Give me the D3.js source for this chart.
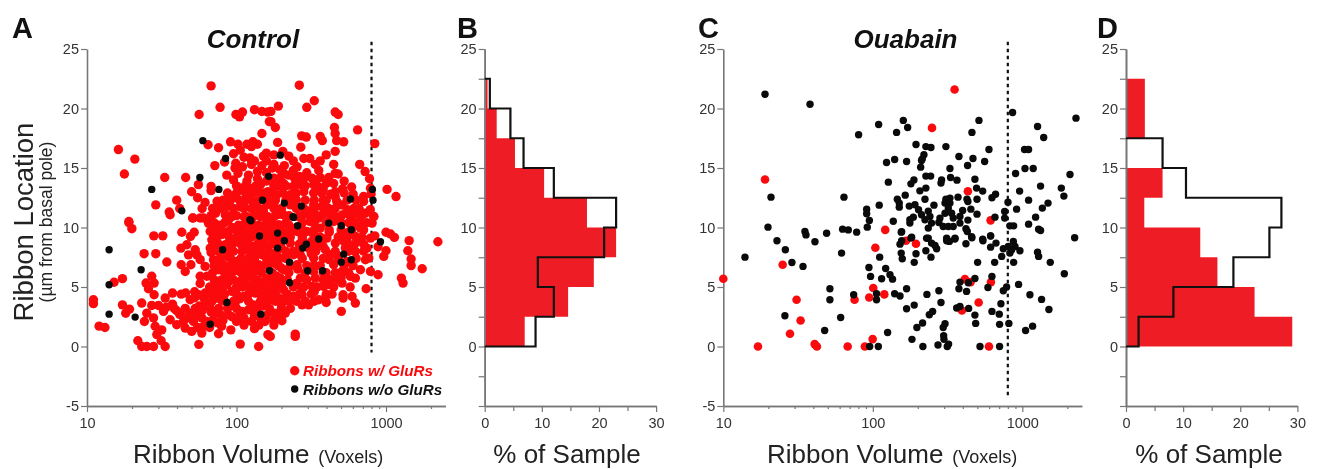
<!DOCTYPE html>
<html>
<head>
<meta charset="utf-8">
<script src="https://cdnjs.cloudflare.com/ajax/libs/d3/7.8.5/d3.min.js"></script>
<style>
body { margin: 0; background: #fff; }
svg { display: block; filter: blur(0.35px); }
text { font-family: "Liberation Sans", Arial, sans-serif; fill: #222; }
</style>
</head>
<body>
<div id="graph"></div>
<script>
// points are [log10 of volume in voxels, location in um]
const controlRed = [
[1.83,21.9],[1.89,20.1],[1.75,19.5],[1.996,19.5],[2.04,19.7],[2.02,19.3],[2.12,19.9],[2.17,19.75],[2.21,19.7],[2.22,18.9],[2.17,17.9],
[1.21,16.55],[1.32,15.75],[1.25,14.5],[1.52,14.2],[1.66,14.2],[1.81,16.95],[1.88,16.7],[1.96,17.2],[2.01,17.0],[2.07,17.0],[2.11,17.2],[2.14,17.0],[2.10,16.8],
[2.025,16.5],[1.98,16.2],[2.20,16.25],[2.20,15.6],[2.09,15.85],[2.10,15.3],[1.995,15.4],[1.99,15.0],[1.92,15.5],[1.855,15.2],[1.935,14.4],[2.01,14.55],[1.98,14.0],
[2.08,14.4],[2.14,14.7],[1.745,13.6],[1.83,13.45],[1.83,13.1],[1.70,13.0],[1.74,12.5],[1.79,12.1],[1.87,12.2],[1.77,11.6],[1.60,12.3],[1.62,11.6],[1.46,11.9],[1.55,11.3],[1.28,10.5],
[1.97,12.6],[2.025,13.3],[2.09,13.3],[2.16,13.6],[2.20,13.9],[2.07,12.5],[2.14,13.0],[2.21,13.0],[1.935,11.75],[2.025,11.75],[1.86,11.2],[1.925,11.05],[2.10,11.6],[2.20,11.9],[2.05,10.9],[1.71,10.8],[1.78,10.8],[2.16,10.9],[2.21,10.9],
[2.42,21.96],[2.52,20.65],[2.47,20.1],[2.28,20.2],[2.23,19.75],[2.66,19.7],[2.68,19.5],[2.81,18.2],[2.655,18.4],[2.26,18.4],[2.23,18.9],[2.66,17.9],[2.436,17.7],[2.467,17.6],[2.56,17.65],[2.574,17.3],[2.67,17.3],[2.717,17.2],[2.275,17.15],[2.925,17.05],[2.43,16.75],
[2.66,16.4],[2.60,16.1],[2.56,15.6],[2.527,15.3],[2.49,15.8],[2.45,15.8],[2.405,15.1],[2.35,16.0],[2.65,15.3],[2.66,14.55],[2.68,14.5],[2.617,14.2],[2.60,13.7],[2.505,14.15],[2.516,13.6],[2.824,15.3],[2.86,14.7],[2.89,14.1],[2.896,13.3],[3.007,13.2],[3.067,12.6],[2.71,13.25],[2.66,13.0],[2.63,12.8],
[2.427,13.6],[2.38,13.45],[2.35,14.4],[2.315,13.7],[2.25,16.1],[2.25,15.3],[2.29,14.85],[2.25,14.15],[2.29,14.15],[2.516,12.9],[2.45,13.0],[2.36,12.75],[2.27,12.75],[2.516,11.9],[2.45,11.6],[2.36,11.9],[2.57,11.75],[2.616,11.6],[2.706,11.9],[2.67,12.2],[2.784,11.6],[2.784,11.2],[2.74,11.5],[2.58,11.1],[2.706,11.05],[2.49,11.05],[2.416,10.9],[2.315,11.05],[2.25,11.9],[2.862,11.2],[2.918,10.9],[2.895,11.5],[2.83,10.9],
[1.28,10.4],[1.30,9.9],[1.447,9.3],[1.507,9.3],[1.634,9.6],[1.717,9.6],[1.692,9.25],[1.556,11.07],[1.706,10.8],[1.757,10.8],[1.813,10.35],[1.824,9.67],[1.835,8.97],[1.824,8.27],[1.382,7.8],[1.46,7.8],[1.534,7.1],[1.628,8.27],[1.668,8.55],[1.724,8.13],[1.679,7.7],[1.735,7.7],[1.757,7.3],[1.79,6.73],[1.63,6.87],[1.695,6.87],[1.657,6.3],[1.757,5.9],[1.757,5.3],[1.802,5.9],
[1.237,5.7],[1.181,5.4],[1.433,5.9],[1.395,5.33],[1.449,5.33],[1.411,4.85],[1.449,4.35],[1.043,3.93],[1.043,3.6],[1.237,3.5],[1.284,3.14],[1.259,2.8],[1.366,3.65],[1.433,3.45],[1.478,3.45],[1.512,2.95],[1.40,2.8],[1.384,2.1],[1.445,2.4],[1.456,1.7],[1.50,1.4],[1.467,1.0],[1.34,0.48],[1.366,0],[1.40,0],[1.445,0],[1.496,0.48],[1.523,0],[1.081,1.71],[1.12,1.6],
[1.523,4.07],[1.572,4.49],[1.63,4.4],[1.572,3.56],[1.585,3.17],[1.69,3.93],[1.746,4.35],[1.79,4.49],[1.835,4.77],[1.88,4.63],[1.657,3.2],[1.724,3.2],[1.79,3.65],[1.835,3.79],[1.88,3.2],[1.679,2.67],[1.556,2.25],[1.60,1.83],[1.657,1.55],[1.70,1.27],[1.645,2.1],[1.768,1.13],[1.712,2.1],[1.768,2.4],[1.757,2.95],[1.748,0.18],[1.88,1.07],[1.909,2.19],[1.962,1.4],[2.0,2.1],[1.947,2.67],[2.025,0.2],[2.148,0],[2.10,2.1],[2.21,1.0],[2.036,2.95],[2.08,3.09],[2.19,2.1],
[1.88,10.2],[1.947,10.65],[2.014,10.2],[2.148,10.2],[1.90,9.4],[1.98,8.7],[2.047,9.1],[2.103,8.4],[2.181,8.55],[1.936,7.57],[2.003,7.15],[2.08,7.43],[2.148,6.87],[1.88,6.45],[1.947,5.9],[2.025,5.47],[2.103,5.9],[2.19,5.47],[1.869,5.05],[1.969,4.63],[2.047,4.2],[2.125,4.49],[2.2,3.93],[1.846,7.29],[1.869,4.07],[1.99,3.65],[2.114,3.5],[2.215,6.87],[2.036,7.99],[2.215,7.99],[2.058,6.45],[1.925,8.55],[2.08,9.67],[2.19,9.67],[1.947,9.67],[1.88,7.99],[1.913,6.87],[1.98,6.31],[2.125,6.31],[1.936,5.19],[2.014,6.45],[2.159,5.05],[2.08,5.05],[2.17,7.71],[2.103,10.8],[1.969,10.9],[2.215,10.2],[2.215,4.9],
[3.347,8.8],[3.155,8.9],[3.146,8.05],[3.168,7.35],[3.168,6.8],[3.242,6.53],[3.103,5.75],[3.114,5.33],[3.0,9.6],[3.056,9.17],[3.03,9.45],[3.0,8.05],[2.985,7.57],[2.947,8.38],[2.925,9.3],[2.947,6.03],[2.867,4.85],[2.701,2.95],[2.393,1.04],[2.393,0.85],[2.226,0.85],[2.795,3.65],[2.773,4.2],[2.713,4.35],[2.713,4.07],[2.639,4.4],[2.594,4.07],[2.55,3.93],[2.483,3.5],[2.438,3.5],[2.438,4.35],[2.382,4.2],[2.326,4.07],[2.326,2.8],[2.304,2.16],[2.248,2.16],[2.253,2.8],[2.26,4.49],[2.226,3.93],
[2.896,6.31],[2.885,7.43],[2.873,8.27],[2.896,9.11],[2.907,10.37],[2.918,10.93],[2.851,10.37],[2.795,10.37],[2.829,8.97],[2.795,9.25],[2.739,9.11],[2.795,7.99],[2.862,7.29],[2.829,6.45],[2.795,5.75],[2.706,5.33],[2.706,6.31],[2.628,5.61],[2.583,5.05],[2.505,5.05],[2.527,5.75],[2.427,5.75],[2.405,5.19],[2.226,4.9],[2.27,5.19],[2.315,4.77],[2.516,6.31],[2.427,7.71],[2.483,8.27],[2.516,7.43],[2.594,8.13],[2.628,7.71],[2.605,9.11],[2.661,8.69],[2.728,8.27],[2.516,9.39],[2.56,9.95],[2.47,9.67],[2.405,9.67],[2.349,10.23],[2.282,10.23],[2.248,9.11],[2.36,8.69],[2.382,7.71],[2.293,7.43],[2.237,7.57],[2.315,6.45],[2.405,6.87],[2.293,5.75],[2.65,10.5],[2.49,10.5],[2.427,10.93],[2.773,10.93],[2.661,10.93],[2.829,9.95],[2.739,7.15],[2.65,6.87],[2.762,5.89]
];
// the crowded middle of the Control cloud, estimated where dots merge
const controlRedCore = [
[2.0,13.5],[2.06,13.5],[2.13,13.5],[2.28,13.5],[2.33,13.5],[2.38,13.4],[2.46,13.5],[2.55,13.4],
[1.94,12.9],[2.0,12.9],[2.06,12.9],[2.11,12.9],[2.18,12.9],[2.24,12.9],[2.31,12.9],[2.4,12.9],[2.57,12.9],[2.72,12.9],
[1.91,12.3],[1.96,12.3],[2.02,12.3],[2.1,12.3],[2.15,12.3],[2.21,12.3],[2.26,12.3],[2.33,12.3],[2.4,12.3],[2.46,12.3],[2.52,12.3],[2.58,12.3],[2.74,12.3],[2.8,12.3],
[1.84,11.6],[1.89,11.6],[1.98,11.6],[2.05,11.6],[2.15,11.6],[2.25,11.6],[2.3,11.6],[2.4,11.6],[2.52,11.6],[2.66,11.6],[2.82,11.6],
[1.83,11],[1.96,11],[2.0,11],[2.12,11],[2.26,11],[2.35,11],[2.44,11],[2.54,11],[2.63,11],[2.76,11],
[1.85,10.4],[1.92,10.4],[2.06,10.4],[2.1,10.4],[2.2,10.4],[2.24,10.4],[2.33,10.4],[2.44,10.4],[2.52,10.4],[2.6,10.4],[2.7,10.4],[2.75,10.4],[2.87,10.4],
[1.86,9.8],[1.9,9.8],[2.0,9.8],[2.04,9.8],[2.13,9.8],[2.24,9.8],[2.3,9.8],[2.36,9.8],[2.44,9.8],[2.52,9.8],[2.62,9.8],[2.7,9.8],[2.77,9.8],[2.85,9.8],
[1.87,9.2],[1.95,9.2],[2.0,9.2],[2.1,9.2],[2.15,9.2],[2.22,9.2],[2.3,9.2],[2.36,9.2],[2.44,9.2],[2.56,9.2],[2.68,9.2],[2.84,9.2],
[1.88,8.6],[1.94,8.6],[2.03,8.6],[2.08,8.6],[2.14,8.6],[2.23,8.6],[2.29,8.6],[2.42,8.6],[2.53,8.6],[2.57,8.6],[2.75,8.6],[2.85,8.6],
[1.93,8],[1.98,8],[2.09,8],[2.16,8],[2.27,8],[2.33,8],[2.38,8],[2.53,8],[2.66,8],[2.75,8],[2.85,8],
[1.89,7.4],[1.96,7.4],[2.03,7.4],[2.12,7.4],[2.22,7.4],[2.33,7.4],[2.44,7.4],[2.58,7.4],[2.68,7.4],[2.8,7.4],
[1.85,6.8],[1.96,6.8],[2.05,6.8],[2.1,6.8],[2.18,6.8],[2.28,6.8],[2.36,6.8],[2.47,6.8],[2.56,6.8],[2.72,6.8],[2.78,6.8],
[1.84,6.2],[1.92,6.2],[2.03,6.2],[2.09,6.2],[2.17,6.2],[2.24,6.2],[2.35,6.2],[2.46,6.2],[2.58,6.2],[2.66,6.2],[2.75,6.2],
[1.85,5.6],[1.9,5.6],[1.98,5.6],[2.06,5.6],[2.14,5.6],[2.24,5.6],[2.34,5.6],[2.47,5.6],[2.58,5.6],[2.68,5.6],
[1.82,5],[1.91,5],[2.0,5],[2.04,5],[2.12,5],[2.2,5],[2.3,5],[2.38,5],[2.45,5],[2.54,5],[2.65,5],[2.76,5],
[1.92,4.4],[2.0,4.4],[2.08,4.4],[2.16,4.4],[2.24,4.4],[2.34,4.4],[2.42,4.4],[2.5,4.4],[2.6,4.4],
[1.92,3.8],[1.98,3.8],[2.08,3.8],[2.16,3.8],[2.26,3.8],[2.35,3.8],[2.46,3.8],[2.52,3.8],
[1.94,3.2],[2.0,3.2],[2.14,3.2],[2.22,3.2],[2.3,3.2],[2.36,3.2],
[2.02,2.6],[2.12,2.6],[2.2,2.6],[2.28,2.6],
[2.05,1.8],[2.15,1.8],[2.25,1.8],
[1.75,3.4],[1.82,3.3],[1.85,2.7],[1.7,2.8],[1.62,2.7],[1.78,1.7],[1.84,2.2],[1.6,3.0],[1.72,4.1],[1.53,3.3],
[1.66,4.5],[1.72,4.6],[1.78,4.1],[1.84,4.2],[1.9,3.9],[1.77,3.0],[1.83,2.9],[1.9,2.6],[1.72,2.5],[1.8,2.1],[1.87,2.0],[1.67,2.4],[1.74,1.6],[1.82,1.6],[1.9,1.7],[1.97,2.5],[1.95,3.4],[2.05,2.4],[2.15,2.5],[2.12,1.5],
[1.83,7.9],[1.84,8.8],[1.85,9.4],[1.86,8.3],
[2.05,15.9],[2.12,15.6],[2.17,15.2],[2.04,15.1],[2.14,14.1],[2.07,13.9],[2.2,14.6],[2.18,16],[2.24,15],[2.32,15.2],[2.38,14.8],[2.42,14.3],[2.47,14.6],[2.55,14.8],[2.32,14.5],[2.39,14.1],[2.45,14.1],[2.56,14.2],[2.25,13.5],[2.31,16.4],[2.38,15.6],[2.53,13.9],[2.65,13.7],[2.72,13.9],[2.58,13.2],[2.77,13.4],[2.78,12.8],[2.85,12.6],[2.9,12.8],[2.66,12.6],[2.6,12.3],[2.85,12.2],
[2.05,12],[2.12,12.1],[2.18,11.4],[2.3,11.3],[2.36,12.2],[2.48,11.4],[2.55,10.8],[2.3,10.1],[2.4,10.0],[2.18,10],[2.1,9.9],[2.34,9.5],[2.44,9.0],[2.5,8.8],[2.58,8.4],[2.62,9.6],[2.7,9.4],[2.75,9.6],[2.72,8.8],[2.79,8.6],[2.68,7.6],[2.62,7.3],[2.5,7.8],[2.42,8.2],[2.3,8.3],[2.2,7.4],[2.13,8],[2.05,8.2],[2.1,7.1],[2.25,7.0],[2.3,6.6],[2.41,6.5],[2.52,6.8],[2.6,6.2],[2.7,5.8],[2.62,5.2],[2.4,5.3],[2.3,5.3],[2.2,5.7],[2.12,5.5],[2.1,4.9],[2.2,4.4],[2.28,4.1],[2.4,3.8],[2.44,4.9],[2.52,4.6],[2.6,3.7],[2.3,3.5],[2.1,3.1],[2.18,3.4],[2.02,4.0],[1.9,4.4],[1.95,5.5],[1.93,6.4],[1.87,7.0],[2.0,6.9],[2.05,5.9],[2.16,6.6],[2.27,5.9],[2.18,9.1],[2.26,8.9],[2.02,9.5],[1.97,10.0],[2.07,10.9],[2.28,11.1],[1.88,8.3],[1.95,8.2]
];
const controlBlack = [
[1.775,17.3],[1.927,15.8],[1.755,14.2],[1.433,13.2],[1.882,13.2],[1.634,11.4],[2.174,12.3],[2.215,14.3],[2.09,10.65],
[2.293,16.08],[2.909,13.2],[2.913,12.3],[2.762,12.4],[2.434,11.8],[2.32,12.05],[2.378,10.9],
[1.148,8.13],[1.362,6.45],[1.148,5.19],[1.148,2.72],[1.322,2.47],[1.824,1.88],[1.936,3.7],[1.907,8.13],[2.096,10.57],[2.154,9.28],[2.163,2.72],[2.221,6.36],
[2.963,8.8],[2.617,10.37],[2.701,10.15],[2.768,9.81],[2.382,10.85],[2.409,10.15],[2.275,9.53],[2.32,8.89],[2.55,9.03],[2.467,8.6],[2.443,8.27],[2.275,8.27],[2.717,7.76],[2.701,7.09],[2.768,7.29],[2.355,7.09],[2.476,6.36],[2.576,6.36],[2.355,5.36]
];
const ouabainRed = [
[1.0,5.69],[1.232,0],[1.397,6.87],[1.49,3.93],[1.517,2.19],[1.446,1.07],[1.611,0.2],[1.626,0],[1.832,0],[1.878,3.93],
[1.279,14.03],[2.547,21.6],[2.396,18.37],[2.636,13.05],[2.788,10.6],[2.083,9.8],
[2.017,8.3],[2.222,8.89],[2.289,8.63],[2.616,5.66],[2.654,5.41],[2.79,5.41],[2.708,3.7],[2.596,3.03],[2.003,4.91],[1.976,4.12],[2.077,4.38],[1.999,0.62],[1.947,0],[2.777,0]
];
const ouabainBlack = [
[1.279,21.2],[1.58,20.36],[1.905,17.8],[1.319,12.55],[1.299,10.03],[1.546,9.66],[1.553,9.38],[1.691,9.52],[1.807,12.55],[1.798,9.86],[1.836,9.8],[1.892,9.61],[1.959,11.54],[1.959,11.15],[1.977,10.59],[1.963,10.03],
[1.145,7.51],[1.359,8.89],[1.415,8.13],[1.459,7.06],[1.533,6.73],[1.613,8.8],[1.791,7.85],[1.412,2.58],[1.785,2.44],[1.713,4.85],[1.713,3.93],[1.678,1.35],[1.872,4.35],
[2.935,19.67],[3.359,19.19],[2.039,18.66],[2.204,19],[2.233,18.4],[2.159,17.99],[2.71,19],[2.663,17.99],[3.102,18.49],[3.143,17.56],[2.289,16.98],[2.355,16.8],[2.389,16.72],[2.489,16.8],[2.777,16.56],[2.576,15.97],[2.67,15.8],[2.748,15.55],[2.634,15.21],[2.342,16.11],[2.331,15.77],[2.326,15.63],[2.32,15.07],[2.092,15.46],[2.146,15.72],[2.226,15.55],[2.516,14.96],
[3.015,16.56],[3.042,16.56],[3.018,14.96],[3.073,14.96],[2.955,14.54],[3.319,14.46],[2.355,14.32],[2.387,14.32],[2.52,14.2],[2.563,13.98],[2.683,14.06],[2.46,14.0],[2.456,13.73],[2.104,13.81],[2.275,14.0],[2.255,13.67],[2.355,13.31],[2.315,13.08],[2.217,12.72],[2.694,13.31],[2.735,13.06],[2.821,12.8],[2.797,12.5],[3.122,13.48],[2.982,13.06],[3.261,13.31],[3.278,12.64],[3.042,12.3],[2.904,12.13],[3.172,12.05],[3.134,11.63],[2.962,11.54],
[2.697,12.38],[2.63,12.38],[2.636,12.19],[2.57,12.55],[2.516,12.47],[2.489,12.38],[2.483,12.05],[2.516,12.05],[2.349,12.38],[2.409,11.88],[2.164,12.38],[2.177,12.05],[2.177,11.71],[2.043,11.88],[2.244,11.8],[2.282,11.91],[2.306,11.49],[2.371,11.38],[2.326,11.07],[2.382,10.93],[2.349,10.65],[2.505,11.63],[2.483,11.2],[2.527,11.2],[2.449,10.79],[2.442,10.42],[2.601,11.43],[2.656,11.54],[2.697,11.12],[2.583,10.93],[2.636,10.62],[2.583,10.37],[2.538,10.79],[2.371,9.95],[2.393,10.37],[2.471,10.09],[2.505,10.09],[2.538,10.09],
[2.137,10.53],[2.248,10.65],[2.271,10.87],[2.248,10.37],[2.193,9.64],[2.26,9.19],[2.36,9.1],[2.623,9.89],[2.632,9.67],[2.661,9.22],[2.55,9.1],[2.494,9.1],[2.817,10.87],[2.882,11.35],[2.882,10.79],[2.917,10.14],[2.942,10.14],[3.089,10.87],[3.042,10.28],[3.109,9.86],[3.122,9.75],[2.788,9.3],[2.735,9.02],
[3.35,9.14],[2.19,9.61],[2.193,8.89],[2.182,8.6],[2.255,9.11],[2.371,9.11],[2.393,8.69],[2.416,8.49],[2.427,8.21],[2.494,8.89],[2.512,8.83],[2.549,9.03],[2.623,8.63],[2.663,9.14],[2.737,8.89],[2.788,9.28],[2.824,8.69],[2.788,8.35],[2.873,8.21],[2.906,8.41],[2.94,8.83],[2.951,8.41],[2.929,8.13],[2.984,8.05],[2.862,7.57],[2.917,7.85],[3.102,7.93],[3.109,7.57],[2.942,7.07],[2.815,7.07],[2.701,7.07],[3.187,7.07],[3.281,6.11],
[2.19,7.85],[2.197,7.37],[2.289,7.79],[2.355,8.05],[2.389,7.51],[2.277,7.07],[2.046,7.51],[1.974,6.64],[2.086,6.56],[1.985,5.89],[2.059,5.69],[2.115,6.03],[2.132,5.66],[2.683,5.72],[2.797,5.89],[2.975,5.22],[2.583,5.41],[2.639,5.36],[2.576,4.85],[2.627,4.63],[2.77,4.96],[2.895,5.0],[2.873,4.68],[2.226,4.85],[2.146,4.43],[2.182,4.24],[2.025,4.43],[2.025,3.93],[2.442,4.68],[2.362,4.38],[3.051,4.35],[3.129,3.96],[3.178,3.11],
[2.456,3.7],[2.277,3.48],[2.226,3.17],[2.40,2.95],[2.378,2.67],[2.583,3.37],[2.561,3.23],[2.641,3.2],[2.857,3.59],[2.797,2.95],[2.846,2.72],[2.683,2.64],[2.688,1.94],[2.848,1.86],[2.91,1.94],[2.333,1.97],[2.295,1.6],[2.483,1.91],[2.471,1.6],[3.069,1.71],[3.022,1.35],[2.099,1.18],[2.474,0.9],[2.476,0.6],[2.262,0.6],[2.507,0.2],[2.498,0],[2.436,0.12],[2.335,0],[2.717,0],[2.848,0],[1.979,0],[2.037,0]
];

// histogram bins, from 0-2.5 up to 20-22.5
const binEdges = [0, 2.5, 5, 7.5, 10, 12.5, 15, 17.5, 20, 22.5];
const controlHistRed = [7.0, 14.6, 19.1, 23.0, 17.9, 10.4, 5.3, 2.1, 0.5];
const controlHistBlack = [8.9, 12.1, 9.3, 20.9, 23.0, 12.1, 6.8, 4.5, 0.9];
const ouabainHistRed = [29.1, 22.5, 16.0, 13.0, 3.2, 6.4, 0, 3.3, 3.3];
// no black bins above 17.5 in this panel
const ouabainHistBlack = [2.2, 8.3, 18.8, 25.1, 27.2, 10.5, 6.4];

const minorVolumes = [20, 30, 40, 50, 60, 70, 80, 90, 200, 300, 400, 500, 600, 700, 800, 900, 2000];
const majorVolumes = [10, 100, 1000];
const cutoffVolume = 800;
const locationTicks = [25, 20, 15, 10, 5, 0, -5];
const histMinorLoc = [22.5, 17.5, 12.5, 7.5, 2.5, -2.5];
const histLabelLoc = [25, 20, 15, 10, 5, 0];

const RED = "#fb0a0d", HISTRED = "#ee1c25", AXIS = "#777";

var svg = d3.select("#graph").append("svg").attr("width", 1320).attr("height", 469);

var y = d3.scaleLinear().domain([-5, 25]).range([406, 49]);

function styleAxis(g) {
    g.selectAll(".domain").attr("stroke", AXIS).attr("stroke-width", 1.6);
    g.selectAll(".tick line").attr("stroke", AXIS).attr("stroke-width", 1.2);
    g.selectAll("text").attr("font-size", 14.5).style("fill", "#333");
}

function scatterPanel(x0, red, black, dashEnd, rRed, rBlack) {
    var x = d3.scaleLog().domain([10, 2500]).range([x0, x0 + 358.5]);

    svg.append("g").attr("transform", "translate(0,406)")
        .call(d3.axisBottom(x).tickValues(minorVolumes).tickSize(3).tickSizeOuter(0).tickFormat(""))
        .call(styleAxis);
    svg.append("g").attr("transform", "translate(0,406)")
        .call(d3.axisBottom(x).tickValues(majorVolumes).tickSize(6).tickSizeOuter(0).tickFormat(d3.format("d")).tickPadding(6))
        .call(styleAxis);
    svg.append("g").attr("transform", `translate(${x0},0)`)
        .call(d3.axisLeft(y).tickValues(locationTicks).tickSize(6).tickSizeOuter(0).tickPadding(2).tickFormat(d => String(d)))
        .call(styleAxis);

    svg.append("line")
        .attr("x1", x(cutoffVolume)).attr("x2", x(cutoffVolume))
        .attr("y1", y(25.6)).attr("y2", y(dashEnd))
        .attr("stroke", "#111").attr("stroke-width", 2.2).attr("stroke-dasharray", "3.5 3.5");

    svg.append("g").selectAll("circle").data(red).join("circle")
        .attr("cx", d => x(Math.pow(10, d[0]))).attr("cy", d => y(d[1])).attr("r", rRed).attr("fill", RED);
    svg.append("g").selectAll("circle").data(black).join("circle")
        .attr("cx", d => x(Math.pow(10, d[0]))).attr("cy", d => y(d[1])).attr("r", rBlack).attr("fill", "#0a0a0a");
}

// steps up through the bins, back to the axis at the top
function stepPoints(vals) {
    var pts = [[0, 0]];
    vals.forEach((v, i) => {
        pts.push([v, binEdges[i]]);
        pts.push([v, binEdges[i + 1]]);
    });
    pts.push([0, binEdges[vals.length]]);
    return pts;
}

function histPanel(x0, redVals, blackVals) {
    var x = d3.scaleLinear().domain([0, 30]).range([x0, x0 + 171.4]);
    var outline = d3.line().x(d => x(d[0])).y(d => y(d[1]));

    svg.append("path").attr("d", outline(stepPoints(redVals)) + "Z").attr("fill", HISTRED);

    svg.append("g").attr("transform", "translate(0,406)")
        .call(d3.axisBottom(x).tickValues([5, 15, 25]).tickSize(5).tickSizeOuter(0).tickFormat(""))
        .call(styleAxis);
    svg.append("g").attr("transform", "translate(0,406)")
        .call(d3.axisBottom(x).tickValues([0, 10, 20, 30]).tickSize(6).tickSizeOuter(0).tickPadding(6))
        .call(styleAxis);
    svg.append("g").attr("transform", `translate(${x0},0)`)
        .call(d3.axisLeft(y).tickValues(histMinorLoc.concat([-5])).tickSize(6).tickSizeOuter(0).tickFormat(""))
        .call(styleAxis);
    svg.append("g").attr("transform", `translate(${x0},0)`)
        .call(d3.axisLeft(y).tickValues(histLabelLoc).tickSize(6).tickSizeOuter(0).tickPadding(2))
        .call(styleAxis);

    svg.append("path").attr("d", outline(stepPoints(blackVals)))
        .attr("fill", "none").attr("stroke", "#111").attr("stroke-width", 2.2);
}

scatterPanel(87, controlRed.concat(controlRedCore), controlBlack, -0.5, 4.7, 3.7);
histPanel(484.7, controlHistRed, controlHistBlack);
scatterPanel(723.3, ouabainRed, ouabainBlack, -4.2, 4.3, 3.7);
histPanel(1126, ouabainHistRed, ouabainHistBlack);

// panel letters
[["A", 12], ["B", 457], ["C", 698], ["D", 1097]].forEach(d => {
    svg.append("text").attr("x", d[1]).attr("y", 38).text(d[0])
        .attr("font-size", 29).attr("font-weight", "bold").style("fill", "#111");
});

// titles
[["Control", 253], ["Ouabain", 905.5]].forEach(d => {
    svg.append("text").attr("x", d[1]).attr("y", 48).text(d[0]).attr("text-anchor", "middle")
        .attr("font-size", 26).attr("font-weight", "bold").attr("font-style", "italic").style("fill", "#111");
});

// axis titles
[133, 767].forEach(px => {
    var t = svg.append("text").attr("x", px).attr("y", 463).attr("font-size", 26);
    t.append("tspan").text("Ribbon Volume");
    t.append("tspan").text(" (Voxels)").attr("font-size", 18).attr("dx", 4);
});
[567, 1209].forEach(px => {
    svg.append("text").attr("x", px).attr("y", 463).attr("text-anchor", "middle")
        .attr("font-size", 26).text("% of Sample");
});
svg.append("text").attr("transform", "translate(33,222) rotate(-90)").attr("text-anchor", "middle")
    .attr("font-size", 27.5).text("Ribbon Location");
svg.append("text").attr("transform", "translate(52,222) rotate(-90)").attr("text-anchor", "middle")
    .attr("font-size", 17.5).text("(µm from basal pole)");

// legend
svg.append("circle").attr("cx", 294.7).attr("cy", 370.7).attr("r", 4.7).attr("fill", RED);
svg.append("circle").attr("cx", 294.7).attr("cy", 389).attr("r", 3.7).attr("fill", "#0a0a0a");
svg.append("text").attr("x", 303).attr("y", 375.5).text("Ribbons w/ GluRs")
    .attr("font-size", 15.2).attr("font-weight", "bold").attr("font-style", "italic").style("fill", RED);
svg.append("text").attr("x", 303).attr("y", 394.5).text("Ribbons w/o GluRs")
    .attr("font-size", 15.2).attr("font-weight", "bold").attr("font-style", "italic").style("fill", "#111");
</script>
</body>
</html>
